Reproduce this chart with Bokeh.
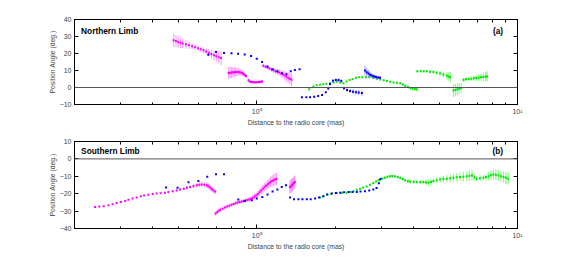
from bokeh.plotting import figure
from bokeh.models import (ColumnDataSource, Label, Span, LogAxis, LinearAxis,
                          FixedTicker)
from bokeh.layouts import column
from bokeh.embed import file_html
from bokeh.resources import INLINE

FONT = "Liberation Sans"

# ---------------- Northern limb (panel a) ----------------
n_mag1_x = [0.48, 0.49, 0.50, 0.51, 0.52, 0.535, 0.55, 0.565, 0.58, 0.595, 0.61, 0.625, 0.64, 0.655, 0.67, 0.685, 0.70, 0.715, 0.73]
n_mag1_y = [27.8, 27.3, 26.8, 26.3, 25.9, 25.4, 24.8, 24.3, 23.7, 23.1, 22.5, 21.9, 21.2, 20.5, 19.7, 19.0, 18.4, 17.8, 17.3]
n_mag1_e = [3.8, 3.6, 3.3, 3.0, 2.7, 2.4, 2.1, 1.8, 1.6, 1.5, 1.5, 1.6, 1.8, 2.1, 2.5, 2.9, 3.3, 3.7, 4.0]

n_mag2_x = [0.78, 0.79, 0.80, 0.81, 0.82, 0.83, 0.84, 0.85, 0.86, 0.87, 0.88, 0.89, 0.90, 0.91]
n_mag2_y = [8.6, 8.7, 8.8, 8.9, 9.0, 9.1, 9.1, 9.1, 9.0, 8.8, 8.5, 8.0, 7.4, 6.8]
n_mag2_e = [3.5, 3.4, 3.2, 3.0, 2.8, 2.6, 2.4, 2.2, 2.0, 1.8, 1.6, 1.4, 1.2, 1.0]

n_mag3_x = [0.93, 0.94, 0.95, 0.96, 0.97, 0.98, 0.99, 1.00, 1.01, 1.02, 1.03, 1.04, 1.05]
n_mag3_y = [4.2, 3.6, 3.3, 3.2, 3.1, 3.1, 3.1, 3.1, 3.2, 3.2, 3.3, 3.4, 3.6]
n_mag3_e = [0.9, 0.8, 0.7, 0.7, 0.7, 0.7, 0.7, 0.7, 0.7, 0.7, 0.7, 0.8, 0.9]

n_mag4_x = [1.06, 1.08, 1.10, 1.12, 1.14, 1.16, 1.18, 1.20, 1.22, 1.24, 1.26, 1.28, 1.30, 1.32, 1.34, 1.36]
n_mag4_y = [12.8, 12.2, 11.7, 11.2, 10.6, 10.1, 9.6, 9.2, 8.8, 8.3, 7.8, 7.1, 6.4, 5.8, 5.2, 4.6]
n_mag4_e = [1.0, 1.0, 1.1, 1.2, 1.3, 1.4, 1.5, 1.7, 1.9, 2.1, 2.3, 2.6, 2.9, 3.2, 3.5, 3.8]

n_blu1_x = [0.652, 0.698, 0.749, 0.800, 0.848, 0.899, 0.951, 1.00, 1.048, 1.10, 1.15, 1.20, 1.25, 1.30, 1.35, 1.40, 1.46]
n_blu1_y = [19.2, 20.9, 20.3, 20.2, 19.8, 19.4, 18.5, 16.9, 15.0, 12.3, 10.8, 9.6, 8.4, 7.8, 9.6, 10.3, 10.7]
n_blu1_e = [0.2, 0.2, 0.2, 0.2, 0.2, 0.2, 0.2, 0.2, 0.2, 0.2, 0.2, 0.2, 0.2, 0.2, 0.2, 0.2, 0.2]

n_blu2_x = [1.49, 1.55, 1.60, 1.66, 1.72, 1.78, 1.84, 1.88, 1.91, 1.96, 2.01, 2.06, 2.11, 2.16, 2.22, 2.28, 2.34, 2.40, 2.46, 2.53]
n_blu2_y = [-5.7, -5.8, -5.8, -5.5, -5.0, -4.4, -2.8, -0.6, 2.0, 3.9, 4.4, 4.4, 3.8, -0.4, -1.5, -2.0, -2.5, -2.8, -3.0, -3.3]
n_blu2_e = [0.2, 0.2, 0.2, 0.2, 0.2, 0.2, 0.3, 0.5, 0.8, 1.0, 1.0, 1.0, 1.0, 1.0, 1.2, 1.3, 1.4, 1.5, 1.6, 1.7]

n_blu3_x = [2.60, 2.64, 2.68, 2.72, 2.76, 2.80, 2.84, 2.88, 2.93, 2.97]
n_blu3_y = [10.0, 9.0, 8.2, 7.5, 7.0, 6.6, 6.3, 6.1, 5.9, 5.7]
n_blu3_e = [3.0, 2.6, 2.2, 1.9, 1.6, 1.4, 1.2, 1.1, 1.0, 0.9]

n_grn1_x = [1.59, 1.65, 1.70, 1.75, 1.80, 1.85, 1.91, 1.97, 2.03, 2.09, 2.15, 2.21, 2.27, 2.33, 2.40, 2.47, 2.54, 2.62, 2.70, 2.80, 2.89, 2.98, 3.07, 3.16, 3.25, 3.35, 3.45, 3.55, 3.63, 3.71, 3.80, 3.88, 3.96, 4.04, 4.11]
n_grn1_y = [-1.0, 0.6, 1.3, 1.6, 1.9, 2.2, 2.5, 3.0, 3.4, 2.9, 2.5, 3.6, 4.4, 5.0, 5.7, 6.0, 6.1, 6.1, 6.0, 5.7, 5.2, 4.7, 4.2, 3.8, 3.4, 3.0, 2.8, 2.5, 1.8, 1.0, 0.3, -0.3, -0.7, -0.9, -1.0]
n_grn1_e = [0.3, 0.3, 0.3, 0.3, 0.3, 0.3, 0.3, 0.3, 0.3, 0.3, 0.3, 0.3, 0.3, 0.3, 0.3, 0.4, 0.4, 0.4, 0.4, 0.4, 0.4, 0.4, 0.4, 0.4, 0.4, 0.5, 0.5, 0.5, 0.6, 0.7, 0.8, 0.9, 1.0, 1.0, 1.0]

n_grn2_x = [4.13, 4.25, 4.37, 4.49, 4.62, 4.76, 4.90, 5.05, 5.20, 5.36, 5.45, 5.52]
n_grn2_y = [9.5, 9.6, 9.5, 9.5, 9.3, 9.1, 8.7, 8.2, 7.6, 6.9, 6.5, 6.1]
n_grn2_e = [0.8, 0.8, 0.8, 0.8, 0.9, 1.0, 1.1, 1.3, 1.6, 2.0, 2.5, 3.2]

n_grn3_x = [5.68, 5.78, 5.88, 5.98, 6.08]
n_grn3_y = [-1.8, -1.5, -1.1, -0.7, -0.3]
n_grn3_e = [3.8, 3.6, 3.4, 3.2, 3.0]

n_grn4_x = [6.21, 6.35, 6.50, 6.65, 6.80, 6.95, 7.10, 7.25, 7.40, 7.55, 7.64]
n_grn4_y = [4.6, 4.8, 5.0, 5.2, 5.4, 5.6, 5.8, 6.0, 6.2, 6.4, 6.5]
n_grn4_e = [1.2, 1.2, 1.3, 1.4, 1.6, 1.8, 2.0, 2.2, 2.5, 2.8, 3.0]

# ---------------- Southern limb (panel b) ----------------
s_mag1_x = [0.240, 0.249, 0.259, 0.270, 0.280, 0.290, 0.301, 0.313, 0.322, 0.334, 0.346, 0.359, 0.370, 0.384, 0.399, 0.413, 0.428, 0.445, 0.458, 0.476, 0.493, 0.508, 0.525, 0.540, 0.555, 0.572, 0.589, 0.602, 0.615, 0.629, 0.643, 0.652, 0.662, 0.672, 0.681, 0.692]
s_mag1_y = [-27.6, -27.4, -27.2, -26.7, -26.1, -25.4, -24.8, -24.2, -23.5, -22.8, -22.2, -21.5, -21.1, -20.6, -20.2, -19.9, -19.7, -19.4, -19.0, -18.6, -18.1, -17.6, -17.1, -16.6, -16.1, -15.6, -15.2, -14.9, -14.7, -14.8, -15.2, -15.7, -16.5, -17.3, -18.0, -18.7]
s_mag1_e = [0.2, 0.2, 0.2, 0.2, 0.2, 0.2, 0.2, 0.2, 0.2, 0.2, 0.2, 0.2, 0.2, 0.3, 0.3, 0.3, 0.4, 0.4, 0.5, 0.6, 0.7, 0.8, 0.9, 1.0, 1.0, 1.1, 1.2, 1.3, 1.4, 1.5, 1.5, 1.6, 1.6, 1.6, 1.6, 1.6]

s_mag2_x = [0.695, 0.705, 0.715, 0.725, 0.740, 0.755, 0.770, 0.785, 0.800, 0.815, 0.830, 0.845, 0.860, 0.875, 0.890, 0.905, 0.920, 0.935, 0.950, 0.965, 0.980, 0.995, 1.010, 1.025, 1.040, 1.055, 1.070, 1.085, 1.100, 1.115, 1.130, 1.145, 1.160, 1.175, 1.190]
s_mag2_y = [-31.4, -30.6, -29.8, -29.2, -28.6, -28.0, -27.4, -26.9, -26.4, -25.9, -25.5, -25.1, -24.8, -24.5, -24.2, -23.9, -23.6, -23.3, -22.9, -22.4, -21.8, -21.1, -20.2, -19.2, -18.2, -17.2, -16.3, -15.5, -14.7, -14.0, -13.3, -12.7, -12.2, -11.8, -11.5]
s_mag2_e = [1.1, 1.1, 1.1, 1.1, 1.1, 1.1, 1.1, 1.1, 1.1, 1.1, 1.1, 1.1, 1.1, 1.2, 1.2, 1.3, 1.3, 1.4, 1.5, 1.6, 1.7, 1.8, 1.9, 2.0, 2.1, 2.2, 2.3, 2.4, 2.6, 2.8, 3.0, 3.1, 3.2, 3.4, 3.5]

s_mag3_x = [1.340, 1.350, 1.360, 1.370, 1.380, 1.390, 1.400]
s_mag3_y = [-16.3, -15.8, -15.3, -14.8, -14.3, -13.8, -13.3]
s_mag3_e = [3.8, 3.8, 3.8, 3.8, 3.8, 3.8, 3.8]

s_blu1_x = [0.449, 0.497, 0.547, 0.597, 0.646, 0.698, 0.749]
s_blu1_y = [-16.5, -16.6, -13.4, -12.7, -10.2, -8.8, -8.8]

s_blu2_x = [0.85, 0.90, 0.957, 1.00, 1.05, 1.10, 1.15, 1.20, 1.247, 1.295]
s_blu2_y = [-23.4, -24.2, -23.8, -22.8, -21.9, -20.5, -18.8, -17.6, -16.1, -15.2]

s_blu3_x = [1.342, 1.39, 1.445, 1.497, 1.556, 1.61, 1.674, 1.734, 1.80, 1.865, 1.94, 2.01, 2.09, 2.16, 2.25, 2.33, 2.42, 2.50, 2.60, 2.70, 2.80, 2.88, 2.94, 2.98]
s_blu3_y = [-22.2, -23.2, -23.2, -23.2, -23.2, -23.2, -22.8, -22.2, -21.5, -20.5, -19.9, -19.6, -19.4, -19.2, -19.0, -19.0, -19.0, -18.8, -18.6, -18.2, -17.6, -16.7, -14.0, -11.5]

s_grn_x = [1.75, 1.80, 1.86, 1.93, 2.03, 2.12, 2.21, 2.28, 2.35, 2.42, 2.49, 2.56, 2.64, 2.72, 2.80, 2.87, 2.93, 2.97, 3.03, 3.10, 3.17, 3.24, 3.31, 3.39, 3.47, 3.55, 3.63, 3.71, 3.80, 3.88, 4.00, 4.11, 4.24, 4.36, 4.46, 4.56, 4.66, 4.76, 4.90, 5.05, 5.20, 5.36, 5.52, 5.68, 5.85, 6.02, 6.20, 6.39, 6.54, 6.69, 6.83, 6.97, 7.18, 7.40, 7.57, 7.75, 7.91, 8.08, 8.26, 8.44, 8.64, 8.84, 9.03, 9.22]
s_grn_y = [-22.2, -21.5, -20.5, -20.0, -19.6, -19.5, -19.4, -19.0, -18.6, -17.8, -17.1, -16.4, -15.8, -14.8, -13.9, -13.0, -12.3, -12.0, -11.3, -10.8, -10.3, -10.0, -9.9, -10.0, -10.4, -10.8, -11.6, -12.3, -12.8, -13.1, -13.2, -13.3, -13.3, -13.3, -13.5, -13.7, -13.3, -12.7, -12.2, -11.9, -11.6, -11.4, -11.1, -10.8, -10.6, -10.4, -10.2, -10.0, -9.7, -9.5, -10.5, -11.4, -11.1, -10.8, -10.4, -10.0, -9.4, -8.9, -9.1, -9.5, -9.9, -10.4, -10.9, -11.4]
s_grn_e = [0.3, 0.3, 0.3, 0.3, 0.3, 0.3, 0.3, 0.3, 0.3, 0.3, 0.3, 0.3, 0.3, 0.3, 0.4, 0.4, 0.5, 0.6, 0.7, 0.8, 0.8, 0.8, 0.8, 0.8, 0.9, 0.9, 0.9, 0.9, 1.0, 1.0, 1.0, 1.0, 1.1, 1.2, 1.6, 1.9, 1.9, 1.6, 1.5, 1.6, 1.8, 2.0, 2.2, 2.3, 2.4, 2.5, 2.6, 2.8, 3.0, 3.0, 2.0, 1.5, 1.5, 1.6, 1.8, 2.4, 2.8, 3.0, 3.0, 3.0, 3.2, 3.3, 3.5, 3.5]

x_major = [1, 10]
x_minor = [0.2, 0.3, 0.4, 0.5, 0.6, 0.7, 0.8, 0.9, 2, 3, 4, 5, 6, 7, 8, 9]
x_labels = {1: "10\u2070", 10: "10\u00b9"}
n_yticks = [-10, 0, 10, 20, 30, 40]
s_yticks = [-40, -30, -20, -10, 0, 10]

MAG, MAG_BAR = "#ff00ff", "#ff77ff"
BLU, BLU_BAR = "#0000ff", "#8c8cff"
GRN, GRN_BAR = "#00e600", "#55ff55"


def series(p, xs, ys, es, color, bar, size=2.0):
    src = ColumnDataSource(dict(x=xs, y=ys,
                                lo=[y - e for y, e in zip(ys, es)],
                                hi=[y + e for y, e in zip(ys, es)]))
    p.segment(x0="x", y0="lo", x1="x", y1="hi", source=src,
              line_color=bar, line_width=1.1, line_alpha=0.75)
    p.scatter(x="x", y="y", source=src, marker="square", size=size,
              fill_color=color, line_color=None)


def dots(p, xs, ys, color, size=2.0):
    p.scatter(x=xs, y=ys, marker="square", size=size, fill_color=color, line_color=None)


def make_panel(yr, yticks, title, tag, title_y, height, bt, bb):
    p = figure(width=572, height=height, x_axis_type="log", x_range=(0.2, 10), y_range=yr,
               output_backend="svg", toolbar_location=None,
               min_border_left=74, min_border_right=55, min_border_top=bt, min_border_bottom=bb)
    p.grid.visible = False
    p.outline_line_color = "black"
    p.background_fill_color = "white"
    p.border_fill_color = "white"

    xa = p.xaxis[0]
    xa.ticker = FixedTicker(ticks=x_major, minor_ticks=x_minor)
    xa.major_label_overrides = x_labels
    xa.axis_label = "Distance to the radio core (mas)"
    ya = p.yaxis[0]
    ya.ticker = FixedTicker(ticks=yticks)
    ya.major_label_overrides = {t: (("\u2212" + str(-t)) if t < 0 else str(t)) for t in yticks}
    ya.axis_label = "Position Angle (deg.)"
    for ax in (xa, ya):
        ax.major_tick_in = 4
        ax.major_tick_out = 0
        ax.minor_tick_in = 2
        ax.minor_tick_out = 0
        ax.major_label_text_font = FONT
        ax.major_label_text_font_size = "7px"
        ax.axis_label_text_font = FONT
        ax.axis_label_text_font_size = "6.8px"
        ax.axis_label_text_font_style = "normal"
        ax.major_label_standoff = 3
        ax.axis_label_standoff = 1
        ax.axis_line_color = "black"
        ax.major_tick_line_color = "black"
        ax.minor_tick_line_color = "black"
    ya.minor_tick_line_color = None

    top = LogAxis(ticker=FixedTicker(ticks=[], minor_ticks=x_major + x_minor),
                  major_tick_in=0, major_tick_out=0, minor_tick_in=3, minor_tick_out=0,
                  minor_tick_line_color="black", axis_line_color="black")
    p.add_layout(top, "above")
    right = LinearAxis(ticker=FixedTicker(ticks=[], minor_ticks=yticks),
                       major_tick_in=0, major_tick_out=0, minor_tick_in=4, minor_tick_out=0,
                       minor_tick_line_color="black", axis_line_color="black")
    p.add_layout(right, "right")

    p.add_layout(Span(location=0, dimension="width", line_color="#555555", line_width=1))
    p.add_layout(Label(x=0.212, y=title_y, text=title, text_font=FONT, text_font_size="8.3px",
                       text_font_style="bold", text_baseline="middle", text_color="black"))
    p.add_layout(Label(x=8.8, y=title_y, text=tag, text_font=FONT, text_font_size="8.3px",
                       text_font_style="bold", text_baseline="middle", text_align="right",
                       text_color="black"))
    return p


p1 = make_panel((-10, 40), n_yticks, "Northern Limb", "(a)", 33.1, 128, 19, 21)
series(p1, n_mag1_x, n_mag1_y, n_mag1_e, MAG, MAG_BAR)
series(p1, n_mag2_x, n_mag2_y, n_mag2_e, MAG, MAG_BAR)
series(p1, n_mag3_x, n_mag3_y, n_mag3_e, MAG, MAG_BAR)
series(p1, n_mag4_x, n_mag4_y, n_mag4_e, MAG, MAG_BAR)
series(p1, n_blu1_x, n_blu1_y, n_blu1_e, BLU, BLU_BAR)
series(p1, n_grn1_x, n_grn1_y, n_grn1_e, GRN, GRN_BAR)
series(p1, n_blu2_x, n_blu2_y, n_blu2_e, BLU, BLU_BAR)
series(p1, n_blu3_x, n_blu3_y, n_blu3_e, BLU, BLU_BAR)
series(p1, n_grn2_x, n_grn2_y, n_grn2_e, GRN, GRN_BAR)
series(p1, n_grn3_x, n_grn3_y, n_grn3_e, GRN, GRN_BAR)
series(p1, n_grn4_x, n_grn4_y, n_grn4_e, GRN, GRN_BAR)

p2 = make_panel((-40, 10), s_yticks, "Southern Limb", "(b)", 4.4, 129, 13, 29)
series(p2, s_mag1_x, s_mag1_y, s_mag1_e, MAG, MAG_BAR)
series(p2, s_mag2_x, s_mag2_y, s_mag2_e, MAG, MAG_BAR)
series(p2, s_mag3_x, s_mag3_y, s_mag3_e, MAG, MAG_BAR)
series(p2, s_grn_x, s_grn_y, s_grn_e, GRN, GRN_BAR)
dots(p2, s_blu1_x, s_blu1_y, BLU)
dots(p2, s_blu2_x, s_blu2_y, BLU)
dots(p2, s_blu3_x, s_blu3_y, BLU)

layout = column(p1, p2, spacing=0)
open("out.html", "w").write(file_html(layout, INLINE))
